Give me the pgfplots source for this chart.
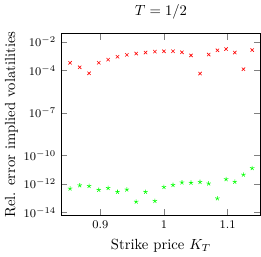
\documentclass[border=0pt]{standalone}
\usepackage{pgfplots}
\pgfplotsset{compat=1.18}
\begin{document}
\begin{tikzpicture}
\begin{axis}[
  scale only axis,
  width=136pt, height=124pt,
  ymode=log,
  xmin=0.8386, xmax=1.152,
  ymin=6e-15, ymax=4e-2,
  ytick={1e-2,1e-4,1e-7,1e-10,1e-12,1e-14},
  xtick={0.9,1,1.1},
  xticklabels={0.9,1,1.1},
  title={$T=1/2$},
  xlabel={Strike price $K_T$},
  ylabel={Rel. error implied volatilities},
  ylabel style={yshift=-3pt},
  tick label style={font=\footnotesize},
]
\addplot[only marks, mark=x, color=red, mark size=1.6pt] coordinates {
(0.8525,3.47e-4) (0.8677,1.66e-4) (0.8824,6.3e-5) (0.8976,3.47e-4) (0.9123,5.75e-4)
(0.9270,9.3e-4) (0.9417,1.26e-3) (0.9564,1.55e-3) (0.9711,1.82e-3) (0.9858,2.14e-3)
(1.0,2.24e-3) (1.0142,2.24e-3) (1.0283,1.9e-3) (1.0425,1.15e-3) (1.0567,6.0e-5)
(1.0703,1.32e-3) (1.0840,2.63e-3) (1.0976,3.24e-3) (1.1113,1.82e-3) (1.1249,1.23e-4)
(1.1386,2.75e-3)
};
\addplot[only marks, mark=star, color=green, mark size=1.6pt] coordinates {
(0.8525,4.7e-13) (0.8677,7.9e-13) (0.8824,7.1e-13) (0.8976,3.8e-13) (0.9123,5.1e-13)
(0.9270,2.75e-13) (0.9417,4.0e-13) (0.9564,5.6e-14) (0.9711,2.75e-13) (0.9858,6.3e-14)
(1.0,6.0e-13) (1.0142,8.3e-13) (1.0283,1.26e-12) (1.0425,1.2e-12) (1.0567,1.35e-12)
(1.0703,1.07e-12) (1.0840,9.5e-14) (1.0976,2.14e-12) (1.1113,1.41e-12) (1.1249,4.5e-12)
(1.1386,1.29e-11)
};
\end{axis}
\end{tikzpicture}
\end{document}
